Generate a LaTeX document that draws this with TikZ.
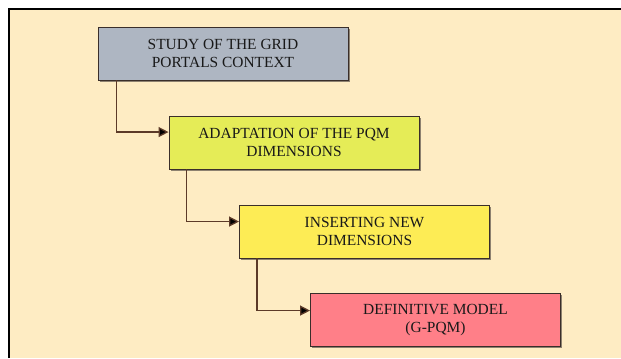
\documentclass[tikz,border=0pt]{standalone}
\usepackage{fontspec}
\setmainfont{Liberation Serif}
\usetikzlibrary{arrows.meta,calc}
\definecolor{bgbeige}{HTML}{FEECC3}
\definecolor{cgray}{HTML}{AEB6C2}
\definecolor{cgreen}{HTML}{E5EC57}
\definecolor{cyellow}{HTML}{FDEC55}
\definecolor{cpink}{HTML}{FF7F88}
\definecolor{edgec}{HTML}{3A2E2A}
\definecolor{linec}{HTML}{5C3A28}
\definecolor{shadowc}{HTML}{8E8270}
\tikzset{
  stepbox/.style={draw=edgec, line width=0.9bp, minimum width=250bp, minimum height=53bp,
    align=center, inner sep=0pt, font=\fontsize{15.5}{18}\selectfont,
    text=black!90, shadowbox},
  shadowbox/.style={preaction={fill=shadowc, transform canvas={shift={(1.5bp,-1.5bp)}}}},
  flow/.style={draw=linec, line width=1.3bp, -{Triangle[length=10bp,width=10bp,fill=black]}}
}
\begin{document}
\begin{tikzpicture}[x=1bp,y=-1bp]
\useasboundingbox (0,0) rectangle (621,358);
\fill[white] (0,0) rectangle (621,358);
\fill[bgbeige] (9,9) rectangle (621,358);
\draw[black, line width=1.2bp] (9,358) -- (9,9) -- (621,9);
\node[stepbox, fill=cgray] (b1) at (223,53.5) {STUDY OF THE GRID\\PORTALS CONTEXT};
\node[stepbox, fill=cgreen] (b2) at (294,142.5) {ADAPTATION OF THE PQM\\DIMENSIONS};
\node[stepbox, fill=cyellow] (b3) at (364.5,231.5) {INSERTING NEW\\DIMENSIONS};
\node[stepbox, fill=cpink] (b4) at (435.5,320) {DEFINITIVE MODEL\\(G-PQM)};
\coordinate (s1) at ($(b1.south west)+(19,0)$);
\coordinate (s2) at ($(b2.south west)+(18,0)$);
\coordinate (s3) at ($(b3.south west)+(18,0)$);
\coordinate (t2) at ($(b2.north west)+(0,16.5)$);
\coordinate (t3) at ($(b3.north west)+(0,17)$);
\coordinate (t4) at ($(b4.north west)+(0,17.5)$);
\draw[flow] (s1) |- (t2);
\draw[flow] (s2) |- (t3);
\draw[flow] (s3) |- (t4);
\end{tikzpicture}
\end{document}
